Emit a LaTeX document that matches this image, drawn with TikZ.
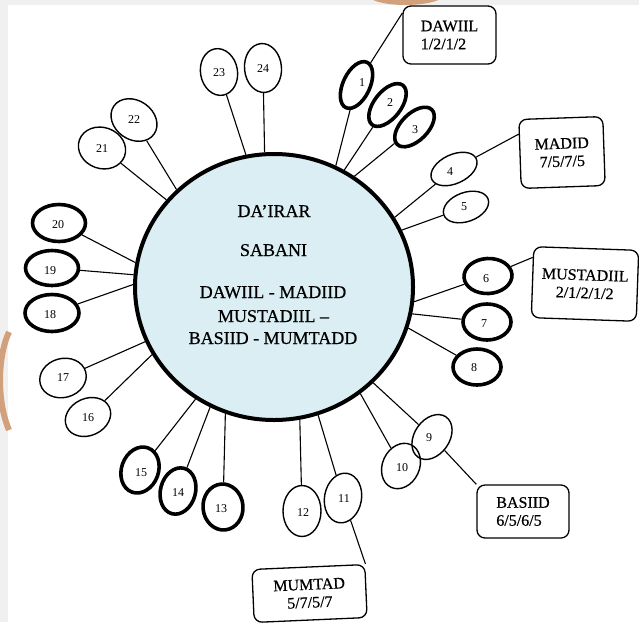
\documentclass[tikz,border=0pt]{standalone}
\usepackage{fontspec}
\setmainfont{Liberation Serif}
\newfontfamily\heavyserif[FakeBold=0.6]{Liberation Serif}
\usetikzlibrary{shapes.geometric}
\definecolor{hubblue}{RGB}{218,238,243}
\definecolor{pagegray}{RGB}{240,240,240}
\definecolor{tan}{RGB}{210,160,122}
\tikzset{
  hubtext/.style={font=\heavyserif\fontsize{18}{20}\selectfont, anchor=base, inner sep=0},
  ringthin/.style={ellipse, draw, line width=1.4pt, inner sep=0},
  ringbold/.style={ellipse, draw, line width=3.6pt, inner sep=0},
  numlbl/.style={font=\fontsize{12}{14}\selectfont, inner sep=0},
  conn/.style={line width=1.1pt},
  tag/.style={draw, rounded corners=8pt, line width=1.3pt, fill=white,
    font=\heavyserif\fontsize{16}{18}\selectfont, inner sep=0},
  wm/.style={draw=tan, line cap=butt}
}
\begin{document}
\begin{tikzpicture}[x=1pt,y=-1pt]
\useasboundingbox (0,0) rectangle (639,622);
% page background with grey margin strips
\fill[pagegray] (0,0) rectangle (639,622);
\fill[white] (8,5) rectangle (639,622);
\begin{scope}
  \clip (0,0) rectangle (639,622);
  \draw[wm, line width=6pt] (372,-4) .. controls (385,4) and (425,4) .. (440,-4);
  \draw[wm, line width=6pt] (9,332) .. controls (-3,358) and (-3,402) .. (9,430);
\end{scope}

% central circle
\node[ellipse, draw, line width=4pt, fill=hubblue, minimum width=278pt,
  minimum height=266pt, inner sep=0] (hub) at (274,287) {};
\node[hubtext] (t1) at (274,217) {DA’IRAR};
\node[hubtext] (t2) at (273.5,256) {SABANI};
\node[hubtext] (t3) at (273,298) {DAWIIL - MADIID};
\node[hubtext] (t4) at (273.5,322) {MUSTADIIL –};
\node[hubtext] (t5) at (273,344) {BASIID - MUMTADD};

% petals
\node[ringbold, minimum width=27pt, minimum height=50pt, rotate=-25] (e1) at (356.5,85) {};
\node[ringbold, minimum width=27pt, minimum height=50pt, rotate=-38] (e2) at (387.5,105) {};
\node[ringbold, minimum width=27pt, minimum height=49pt, rotate=-45] (e3) at (414.5,127) {};
\node[ringthin, minimum width=49pt, minimum height=29pt, rotate=25] (e4) at (454,169) {};
\node[ringthin, minimum width=47pt, minimum height=29pt, rotate=20] (e5) at (466,207) {};
\node[ringbold, minimum width=48pt, minimum height=35pt, rotate=3] (e6) at (488,276) {};
\node[ringbold, minimum width=48pt, minimum height=36pt] (e7) at (487,322) {};
\node[ringbold, minimum width=48pt, minimum height=36pt] (e8) at (477,367) {};
\node[ringthin, minimum width=35pt, minimum height=49pt, rotate=-35] (e9) at (432,437) {};
\node[ringthin, minimum width=37pt, minimum height=47pt, rotate=-25] (e10) at (401,466) {};
\node[ringthin, minimum width=37pt, minimum height=50pt, rotate=-10] (e11) at (343,498) {};
\node[ringthin, minimum width=38pt, minimum height=51pt] (e12) at (302,511) {};
\node[ringbold, minimum width=40pt, minimum height=46pt, rotate=5] (e13) at (223,507) {};
\node[ringbold, minimum width=35pt, minimum height=47pt, rotate=-15] (e14) at (178,491) {};
\node[ringbold, minimum width=37pt, minimum height=47pt, rotate=-20] (e15) at (140,470) {};
\node[ringthin, minimum width=47pt, minimum height=37pt, rotate=25] (e16) at (88,417) {};
\node[ringthin, minimum width=47pt, minimum height=39pt, rotate=15] (e17) at (63,378) {};
\node[ringbold, minimum width=54pt, minimum height=37pt] (e18) at (52,313) {};
\node[ringbold, minimum width=53pt, minimum height=35pt] (e19) at (52,268) {};
\node[ringbold, minimum width=53pt, minimum height=37pt] (e20) at (59,223) {};
\node[ringthin, minimum width=48pt, minimum height=41pt, rotate=-20] (e21) at (102,148) {};
\node[ringthin, minimum width=49pt, minimum height=39pt, rotate=-35] (e22) at (134,120) {};
\node[ringthin, minimum width=37pt, minimum height=47pt, rotate=10] (e23) at (219,72) {};
\node[ringthin, minimum width=37pt, minimum height=49pt, rotate=5] (e24) at (263,68) {};

% petal numbers
\node[numlbl] (n1) at (362,83) {1};
\node[numlbl] (n2) at (390,103) {2};
\node[numlbl] (n3) at (415,130) {3};
\node[numlbl] (n4) at (450,172) {4};
\node[numlbl] (n5) at (464,207) {5};
\node[numlbl] (n6) at (486,279) {6};
\node[numlbl] (n7) at (484,324) {7};
\node[numlbl] (n8) at (474,368) {8};
\node[numlbl] (n9) at (429,438) {9};
\node[numlbl] (n10) at (402,468) {10};
\node[numlbl] (n11) at (344,499) {11};
\node[numlbl] (n12) at (303,513) {12};
\node[numlbl] (n13) at (221,509) {13};
\node[numlbl] (n14) at (178,493) {14};
\node[numlbl] (n15) at (141,473) {15};
\node[numlbl] (n16) at (88,418) {16};
\node[numlbl] (n17) at (63,378) {17};
\node[numlbl] (n18) at (50,315) {18};
\node[numlbl] (n19) at (50,271) {19};
\node[numlbl] (n20) at (58,225) {20};
\node[numlbl] (n21) at (102,149) {21};
\node[numlbl] (n22) at (134,120) {22};
\node[numlbl] (n23) at (219,73) {23};
\node[numlbl] (n24) at (263,69) {24};

% spokes from the circle to each petal
\draw[conn] (e1) -- (hub.63.8);
\draw[conn] (e2) -- (hub.59.2);
\draw[conn] (e3) -- (hub.54.1);
\draw[conn] (e4) -- (hub.30.1);
\draw[conn] (e5) -- (hub.24);
\draw[conn] (e6) -- (hub.-6.2);
\draw[conn] (e7) -- (hub.-11.6);
\draw[conn] (e8) -- (hub.-17.1);
\draw[conn] (e9) -- (hub.-44.3);
\draw[conn] (e10) -- (hub.-51);
\draw[conn] (e11) -- (hub.-71);
\draw[conn] (e12) -- (hub.-79.2);
\draw[conn] (e13) -- (hub.249.4);
\draw[conn] (e14) -- (hub.242.7);
\draw[conn] (e15) -- (hub.235);
\draw[conn] (e16) -- (hub.209.1);
\draw[conn] (e17) -- (hub.203.5);
\draw[conn] (e18) -- (hub.179.6);
\draw[conn] (e19) -- (hub.175.9);
\draw[conn] (e20) -- (hub.170.2);
\draw[conn] (e21) -- (hub.141.4);
\draw[conn] (e22) -- (hub.135.6);
\draw[conn] (e23) -- (hub.102);
\draw[conn] (e24) -- (hub.94.7);

% metre boxes
\node[tag, minimum width=93pt, minimum height=58pt, align=left] (dawiil) at (449.5,35)
  {DAWIIL\\1/2/1/2};
\node[tag, minimum width=84pt, minimum height=69pt, align=center, rotate=2] (madid) at (562,152.5)
  {MADID\\7/5/7/5};
\node[tag, minimum width=105pt, minimum height=71pt, align=center, rotate=-2] (must) at (585,284)
  {MUSTADIIL\\2/1/2/1/2};
\node[tag, minimum width=92pt, minimum height=53pt, align=left] (basiid) at (523,511.5)
  {BASIID\\6/5/6/5};
\node[tag, minimum width=113pt, minimum height=53pt, align=center, rotate=2.5] (mumtad) at (309.5,593.5)
  {MUMTAD\\5/7/5/7};

% links from petals to their boxes
\draw[conn] (e1) -- (dawiil.155);
\draw[conn] (e4) -- (madid.155);
\draw[conn] (e6) -- (must.155);
\draw[conn] (e9) -- (basiid.north west);
\draw[conn] (e11) -- (mumtad.north east);
\end{tikzpicture}
\end{document}
